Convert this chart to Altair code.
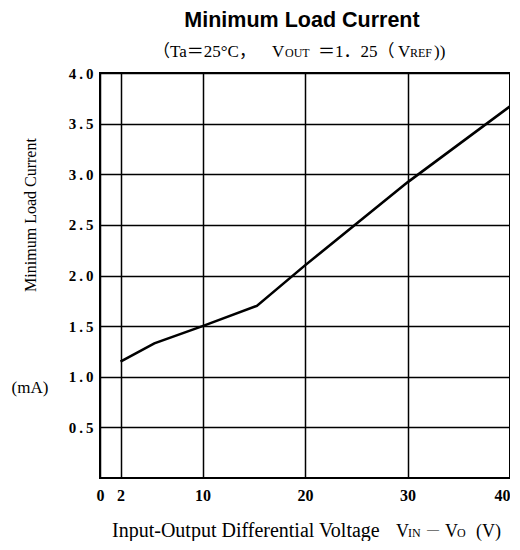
import altair as alt
import pandas as pd

# Data
vin_vo = [2, 5.3, 10, 15.3, 20, 30, 40]
min_load_ma = [1.15, 1.33, 1.50, 1.70, 2.10, 2.92, 3.67]

x_ticks = [0, 2, 10, 20, 30, 40]
y_ticks = [0.5, 1.0, 1.5, 2.0, 2.5, 3.0, 3.5, 4.0]

df = pd.DataFrame({"v": vin_vo, "i": min_load_ma})
one = pd.DataFrame({"k": [0]})

SERIF = "Liberation Serif, Noto Sans CJK JP"

line = alt.Chart(df).mark_line(color="black", strokeWidth=2.6).encode(
    x=alt.X("v:Q",
            scale=alt.Scale(domain=[0, 40], nice=False, zero=False),
            axis=alt.Axis(values=x_ticks, grid=True, gridColor="black", gridWidth=1.5,
                          gridOpacity=1, domain=False, ticks=False, title=None,
                          labelFont="Liberation Serif", labelFontSize=16,
                          labelFontWeight="bold", labelColor="black", labelPadding=9,
                          labelFlush=False, labelOverlap=False,
                          labelAlign={"condition": {"test": "datum.value == 40", "value": "right"},
                                      "value": "center"})),
    y=alt.Y("i:Q",
            scale=alt.Scale(domain=[0, 4], nice=False, zero=True),
            axis=alt.Axis(values=y_ticks, grid=True, gridColor="black", gridWidth=1.5,
                          gridOpacity=1, domain=False, ticks=False, title=None,
                          labelFont="Liberation Serif", labelFontSize=15,
                          labelFontWeight="bold", labelColor="black", labelPadding=7,
                          labelExpr="replace(format(datum.value, '.1f'), '.', '\u2009.\u2009')")),
)


def txt(s, x, y, size, font=SERIF, align="left", weight="normal", angle=0,
        baseline="alphabetic"):
    return alt.Chart(one).mark_text(
        text=s, align=align, baseline=baseline, font=font, fontSize=size,
        fontWeight=weight, angle=angle, color="black"
    ).encode(x=alt.value(x), y=alt.value(y))


# Offsets: plot origin is at page (100, 73)
texts = [
    txt("Minimum Load Current", 202, -63, 21.5, font="Liberation Sans", align="center",
        weight="bold", baseline="top"),
    # subtitle pieces
    txt("\uff08Ta\uff1d25°C\uff0c", 53, -16, 17),
    txt("V", 172, -16, 17),
    txt("OUT", 185, -16, 12),
    txt("\uff1d1\uff0e25\uff08", 218, -16, 17),
    txt("V", 298, -16, 17),
    txt("REF", 310, -16, 12),
    txt("))", 334, -16, 17),
    # y title
    txt("Minimum Load Current", -69, 142, 16, align="center", angle=270,
        baseline="middle"),
    txt("(mA)", -70, 320, 17, align="center"),
    # x title pieces
    txt("Input-Output Differential Voltage", 12, 464, 20),
    txt("V", 296, 464, 18),
    txt("IN", 308, 464, 12),
    txt("\u2014", 327, 460, 12),
    txt("V", 345, 464, 18),
    txt("O", 357, 464, 12),
    txt("(V)", 376, 464, 18),
]

chart = alt.layer(line, *texts).properties(
    width=410, height=405,
    autosize=alt.AutoSizeParams(type="none"),
    padding={"left": 92, "top": 65, "right": 0, "bottom": 63},
).configure_view(stroke="black", strokeWidth=2)

chart.save("out.html", embed_options={"renderer": "svg", "actions": False})
